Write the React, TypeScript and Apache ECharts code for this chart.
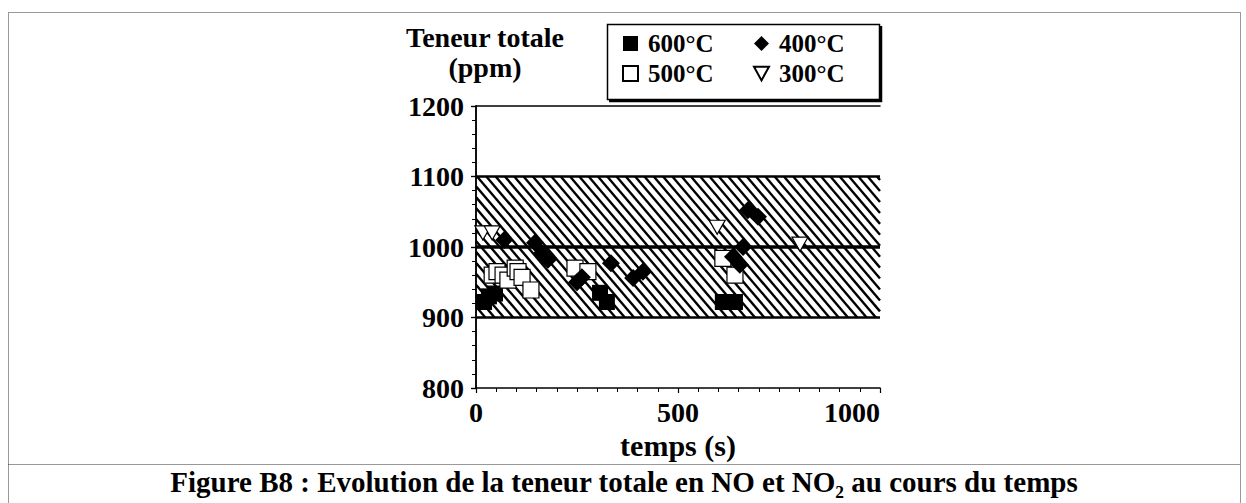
import React, { useEffect, useRef } from "react";
import * as echarts from "echarts";

const FONT = "'Liberation Serif', 'Times New Roman', serif";

const series600: number[][] = [[20, 922], [32, 930], [47, 934], [307, 935], [324, 922], [611, 922], [641, 922]];
const series500: number[][] = [[40, 960], [52, 965], [67, 960], [79, 953], [97, 970], [104, 965], [114, 957], [136, 939], [245, 970], [277, 965], [611, 984], [641, 960]];
const series400: number[][] = [[70, 1010], [146, 1006], [163, 991], [178, 982], [250, 950], [262, 957], [334, 977], [389, 956], [413, 965], [636, 986], [653, 975], [661, 1000], [673, 1052], [698, 1043]];
const series300: number[][] = [[17, 1020], [40, 1020], [597, 1028], [802, 1004]];

const bandLow = 900;
const bandHigh = 1100;
const refLevel = 1000;
const xRange = [0, 1000];
const yRange = [800, 1200];

const legendLeft = ["600°C", "500°C"];
const legendRight = ["400°C", "300°C"];

const caption = "Figure B8 : Evolution de la teneur totale en NO et NO₂ au cours du temps";

const TRI_DOWN = "path://M0,0 L12,0 L6,11 Z";

export default function App() {
  const ref = useRef<HTMLDivElement>(null);
  useEffect(() => {
    if (!ref.current) return;
    const chart = echarts.init(ref.current, null, { renderer: "svg" });
    const labelStyle = { fontFamily: FONT, fontWeight: "bold" as const, fontSize: 28, color: "#000" };
    const legendText = { fontFamily: FONT, fontWeight: "bold" as const, fontSize: 25, color: "#000", lineHeight: 24, padding: [0, 0, 0, 5] };
    const plain = (v: number) => String(v);
    chart.setOption({
      animation: false,
      backgroundColor: "#fff",
      grid: { left: 476, top: 106, width: 404, height: 282, containLabel: false },
      legend: [
        { data: legendLeft, orient: "vertical", left: 622, top: 31, itemWidth: 15, itemHeight: 15, itemGap: 5, padding: 0, selectedMode: false, textStyle: legendText },
        { data: legendRight, orient: "vertical", left: 753, top: 31, itemWidth: 15, itemHeight: 15, itemGap: 5, padding: 0, selectedMode: false, textStyle: legendText },
      ],
      xAxis: [
        {
          type: "value", min: xRange[0], max: xRange[1], interval: 500, position: "bottom",
          name: "temps (s)", nameLocation: "middle", nameGap: 33,
          nameTextStyle: { ...labelStyle, fontSize: 30 },
          axisLine: { show: true, lineStyle: { color: "#000", width: 1.5 } },
          axisTick: { show: true, inside: false, length: 5, lineStyle: { color: "#000", width: 1.2 } },
          minorTick: { show: true, splitNumber: 10, length: 4, lineStyle: { color: "#000", width: 1 } },
          axisLabel: { ...labelStyle, margin: 10, alignMaxLabel: "right", formatter: plain },
          splitLine: { show: false },
        },
        {
          type: "value", min: xRange[0], max: xRange[1], interval: 500, position: "top",
          axisLine: { show: true, lineStyle: { color: "#000", width: 1.5 } },
          axisTick: { show: false }, axisLabel: { show: false }, splitLine: { show: false },
        },
      ],
      yAxis: [
        {
          type: "value", min: yRange[0], max: yRange[1], interval: 100, position: "left",
          name: "Teneur totale\n(ppm)", nameLocation: "end", nameGap: 24,
          nameTextStyle: { ...labelStyle, fontSize: 28, lineHeight: 30, align: "center", padding: [0, 0, 0, 18] },
          axisLine: { show: true, lineStyle: { color: "#000", width: 1.5 } },
          axisTick: { show: true, inside: false, length: 5, lineStyle: { color: "#000", width: 1.2 } },
          minorTick: { show: true, splitNumber: 5, length: 4, lineStyle: { color: "#000", width: 1 } },
          axisLabel: { ...labelStyle, margin: 12, formatter: plain },
          splitLine: { show: false },
        },
        {
          type: "value", min: yRange[0], max: yRange[1], interval: 100, position: "right",
          axisLine: { show: true, lineStyle: { color: "#000", width: 1.5 } },
          axisTick: { show: true, inside: true, length: 5, lineStyle: { color: "#000", width: 1.2 } },
          minorTick: { show: true, splitNumber: 5, length: 4, lineStyle: { color: "#000", width: 1 } },
          axisLabel: { show: false }, splitLine: { show: false },
        },
      ],
      series: [
        {
          type: "custom", name: "band", silent: true, z: 1,
          xAxisIndex: 0, yAxisIndex: 0,
          data: [[xRange[0], refLevel]],
          renderItem: (_params: any, api: any) => {
            const p0 = api.coord([xRange[0], bandHigh]);
            const p1 = api.coord([xRange[1], bandLow]);
            const pm = api.coord([xRange[0], refLevel]);
            const x0 = p0[0], y0 = p0[1], x1 = p1[0], y1 = p1[1];
            const h = y1 - y0;
            const k = 0.85;
            const step = 9.3;
            const children: any[] = [];
            for (let c = x0 - k * h; c < x1; c += step) {
              const ys = Math.max(0, (x0 - c) / k);
              const ye = Math.min(h, (x1 - c) / k);
              if (ye > ys) {
                children.push({
                  type: "line",
                  shape: { x1: c + k * ys, y1: y0 + ys, x2: c + k * ye, y2: y0 + ye },
                  style: { stroke: "#000", lineWidth: 2.4 },
                });
              }
            }
            children.push({ type: "line", shape: { x1: x0, y1: y0, x2: x1, y2: y0 }, style: { stroke: "#000", lineWidth: 2.4 } });
            children.push({ type: "line", shape: { x1: x0, y1: y1, x2: x1, y2: y1 }, style: { stroke: "#000", lineWidth: 2.4 } });
            children.push({ type: "line", shape: { x1: x0, y1: pm[1], x2: x1, y2: pm[1] }, style: { stroke: "#000", lineWidth: 3.4 } });
            return { type: "group", children };
          },
        },
        {
          type: "scatter", name: "600°C", data: series600, symbol: "rect", symbolSize: 16, z: 3,
          itemStyle: { color: "#000", opacity: 1 },
        },
        {
          type: "scatter", name: "500°C", data: series500, symbol: "rect", symbolSize: 16, z: 4,
          itemStyle: { color: "#fff", borderColor: "#000", borderWidth: 1.2, opacity: 1 },
        },
        {
          type: "scatter", name: "400°C", data: series400, symbol: "diamond", symbolSize: 18, z: 5,
          itemStyle: { color: "#000", opacity: 1 },
        },
        {
          type: "scatter", name: "300°C", data: series300, symbol: TRI_DOWN, symbolSize: [16, 14], z: 6,
          itemStyle: { color: "#fff", borderColor: "#000", borderWidth: 1.2, opacity: 1 },
        },
      ],
      graphic: [
        {
          type: "rect", z: -1, silent: true,
          shape: { x: 8.5, y: 12.5, width: 1232, height: 520 },
          style: { fill: "none", stroke: "#333", lineWidth: 1, lineDash: [1, 1] },
        },
        {
          type: "line", silent: true,
          shape: { x1: 8.5, y1: 464.5, x2: 1240.5, y2: 464.5 },
          style: { stroke: "#333", lineWidth: 1, lineDash: [1, 1] },
        },
        {
          type: "rect", z: 0, silent: true,
          shape: { x: 607.5, y: 24.5, width: 272, height: 75 },
          style: { fill: "#fff", stroke: "#000", lineWidth: 1.5 },
        },
        {
          type: "polyline", z: 0, silent: true,
          shape: { points: [[881, 26], [881, 101], [609, 101]] },
          style: { fill: "none", stroke: "#000", lineWidth: 2.5 },
        },
        {
          type: "text", silent: true,
          x: 624, y: 482,
          style: { text: caption, fontFamily: FONT, fontWeight: "bold", fontSize: 29, fill: "#000", align: "center", verticalAlign: "middle" },
        },
      ],
    });
    return () => chart.dispose();
  }, []);
  return <div ref={ref} style={{ position: "absolute", left: 0, top: 0, width: 1246, height: 503 }} />;
}
